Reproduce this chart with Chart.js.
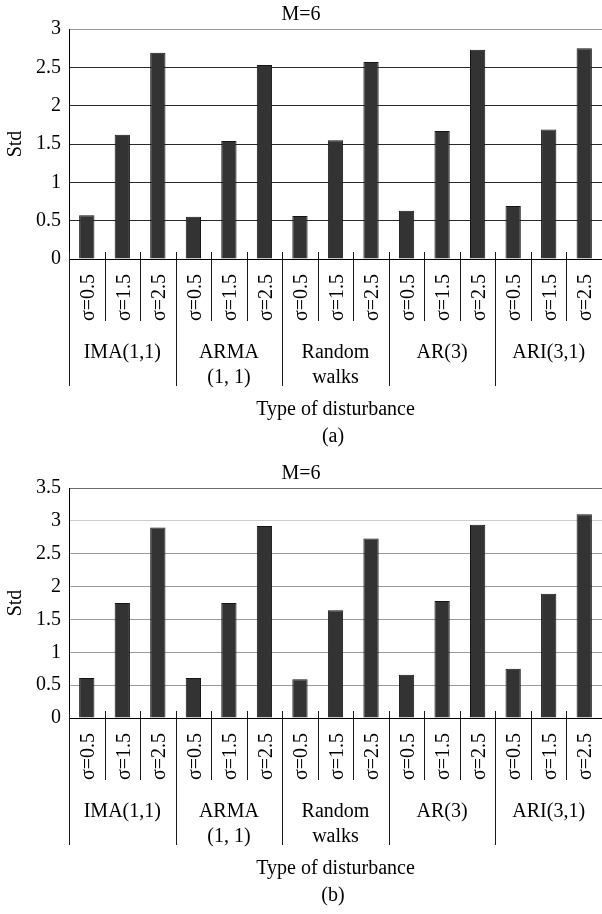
<!DOCTYPE html>
<html>
<head>
<meta charset="utf-8">
<script src="https://cdn.jsdelivr.net/npm/chart.js@4/dist/chart.umd.min.js"></script>
<style>
    body { margin: 0; background: #fff; }
    #wrap { position: relative; width: 602px; height: 914px; }
    canvas { position: absolute; left: 0; }
    #chartA { top: 0; }
    #chartB { top: 459px; }
</style>
</head>
<body>
<div id="wrap">
    <canvas id="chartA" width="602" height="459"></canvas>
    <canvas id="chartB" width="602" height="455"></canvas>
</div>
<script>
const sigmaLevels = ["σ=0.5", "σ=1.5", "σ=2.5"];
const groups = [["IMA(1,1)"], ["ARMA", "(1, 1)"], ["Random", "walks"], ["AR(3)"], ["ARI(3,1)"]];

// Std per disturbance type, three sigma levels each
const stdA = [0.57, 1.62, 2.69, 0.55, 1.54, 2.53, 0.56, 1.55, 2.57, 0.63, 1.67, 2.73, 0.69, 1.69, 2.75];
const stdB = [0.61, 1.75, 2.90, 0.61, 1.75, 2.92, 0.59, 1.64, 2.73, 0.66, 1.78, 2.94, 0.75, 1.89, 3.10];

const yMaxA = 3;
const yMaxB = 3.5;
const yStep = 0.5;

const labels = groups.flatMap(() => sigmaLevels);
const serif = "'Liberation Serif', 'Times New Roman', serif";

Chart.defaults.font.family = serif;
Chart.defaults.font.size = 20;
Chart.defaults.color = "#000";

// lines, sigma labels and group names under the x axis
const groupAxisPlugin = {
    id: "groupAxis",
    afterDraw(chart, args, opts) {
        const ctx = chart.ctx;
        const x = chart.scales.x;
        const y0 = chart.chartArea.bottom;
        const half = (x.getPixelForValue(1) - x.getPixelForValue(0)) / 2;

        ctx.save();
        ctx.strokeStyle = "#1a1a1a";
        ctx.lineWidth = 1;
        for (let i = 0; i < labels.length; i++) {
            const bx = Math.round(x.getPixelForValue(i) - half) + 0.5;
            const bottom = i % 3 === 0 ? y0 + 127 : y0 + 62;
            ctx.beginPath();
            ctx.moveTo(bx, y0 - 7);
            ctx.lineTo(bx, bottom);
            ctx.stroke();
        }

        ctx.fillStyle = "#000";
        ctx.font = "20px " + serif;
        labels.forEach((lab, i) => {
            ctx.save();
            ctx.translate(x.getPixelForValue(i) + 2, y0 + 15);
            ctx.rotate(-Math.PI / 2);
            ctx.textAlign = "right";
            ctx.textBaseline = "middle";
            ctx.fillText(lab, 0, 0);
            ctx.restore();
        });

        ctx.textAlign = "center";
        ctx.textBaseline = "alphabetic";
        groups.forEach((lines, g) => {
            const cx = (x.getPixelForValue(g * 3) + x.getPixelForValue(g * 3 + 2)) / 2;
            lines.forEach((line, k) => {
                ctx.fillText(line, cx, y0 + 99 + k * 25);
            });
        });

        const mid = (chart.chartArea.left + chart.chartArea.right) / 2;
        ctx.fillText("Type of disturbance", mid, y0 + 156);
        ctx.fillText(opts.caption, 333, y0 + 183);
        ctx.restore();
    },
};

function makeChart(id, values, yMax, gridColors, caption) {
    const canvas = document.getElementById(id);
    return new Chart(canvas, {
        type: "bar",
        data: {
            labels: labels,
            datasets: [
                {
                    data: values,
                    backgroundColor: "#333333",
                    borderColor: "#151515",
                    borderWidth: 1,
                    categoryPercentage: 1,
                    barPercentage: 0.43,
                },
            ],
        },
        options: {
            responsive: false,
            animation: false,
            devicePixelRatio: 1,
            layout: { padding: { top: 0, left: 0, right: 0, bottom: canvas.height - 259 } },
            plugins: {
                legend: { display: false },
                tooltip: { enabled: false },
                title: {
                    display: true,
                    text: "M=6",
                    font: { size: 20, weight: "normal" },
                    color: "#000",
                    padding: { top: 3, bottom: 2 },
                },
                groupAxis: { caption: caption },
            },
            scales: {
                x: { display: false },
                y: {
                    min: 0,
                    max: yMax,
                    ticks: {
                        stepSize: yStep,
                        padding: 8,
                        color: "#000",
                        font: { size: 20 },
                        callback: (v) => String(v),
                    },
                    grid: {
                        drawTicks: false,
                        lineWidth: 1,
                        color: (c) => {
                            const v = c.tick ? c.tick.value : 0;
                            if (v === 0) return "#000";
                            if (v === yMax) return gridColors.top;
                            if (v === 3) return gridColors.three;
                            return gridColors.rest;
                        },
                    },
                    border: { display: true, color: "#000", width: 1 },
                    title: {
                        display: true,
                        text: "Std",
                        font: { size: 20 },
                        color: "#000",
                        padding: { top: 4, bottom: 0 },
                    },
                    afterFit: (s) => {
                        s.width = 69;
                    },
                },
            },
        },
        plugins: [groupAxisPlugin],
    });
}

makeChart("chartA", stdA, yMaxA, { top: "#9a9a9a", three: "#9a9a9a", rest: "#2a2a2a" }, "(a)");
makeChart("chartB", stdB, yMaxB, { top: "#6a6a6a", three: "#cccccc", rest: "#9a9a9a" }, "(b)");
</script>
</body>
</html>
